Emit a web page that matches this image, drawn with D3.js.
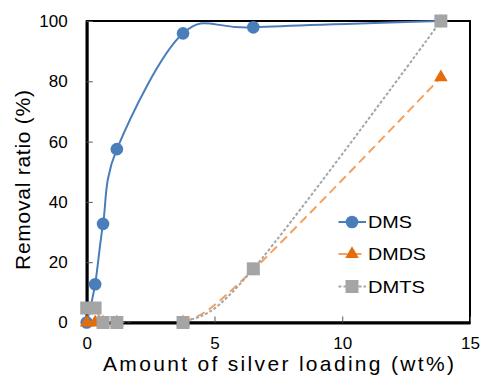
<!DOCTYPE html>
<html>
<head>
<meta charset="utf-8">
<script src="https://cdn.jsdelivr.net/npm/d3@7"></script>
<style>
  body { margin: 0; background: #fff; }
  text { font-family: "Liberation Sans", Arial, sans-serif; fill: #000; }
</style>
</head>
<body>
<div id="chart"></div>
<script>
// data
let arrLoading = [0, 0.33, 0.64, 1.18, 3.77, 6.52, 13.86];
let arrDMS  = [0, 12.7, 32.7, 57.5, 95.9, 97.9, 100];
let arrDMDS = [0, 0, 0, 0, 0, 17.5, 81.3];
let arrDMTS = [4.8, 4.8, 0, 0, 0, 17.8, 100];
let arrSeriesNames = ["DMS", "DMDS", "DMTS"];
let arrXTicks = [0, 5, 10, 15];
let arrYTicks = [0, 20, 40, 60, 80, 100];

let intTotalWid = 484;
let intTotalHgt = 377;
let objMargin = { top: 21, right: 14, bottom: 54.5, left: 86.7 };
let intActiveWid = intTotalWid - objMargin.left - objMargin.right;
let intActiveHgt = intTotalHgt - objMargin.top - objMargin.bottom;

let svg = d3.select("#chart")
  .append("svg")
  .attr("width", intTotalWid)
  .attr("height", intTotalHgt);

let g = svg.append("g")
  .attr("transform", `translate(${objMargin.left}, ${objMargin.top})`);

let fnXScale = d3.scaleLinear().domain([0, 15]).range([0, intActiveWid]);
let fnYScale = d3.scaleLinear().domain([0, 100]).range([intActiveHgt, 0]);

// plot border (top + right)
g.append("rect")
  .attr("width", intActiveWid)
  .attr("height", intActiveHgt)
  .attr("fill", "none")
  .attr("stroke", "#000")
  .attr("stroke-width", 2);

// axes with inside ticks
let gX = g.append("g")
  .attr("transform", `translate(0, ${intActiveHgt})`)
  .call(d3.axisBottom(fnXScale).tickValues(arrXTicks).tickSizeInner(-6).tickSizeOuter(0).tickPadding(14));
let gY = g.append("g")
  .call(d3.axisLeft(fnYScale).tickValues(arrYTicks).tickSizeInner(-6).tickSizeOuter(0).tickPadding(19));

[gX, gY].forEach(ax => {
  ax.select(".domain").attr("stroke", "#000").attr("stroke-width", 3);
  ax.selectAll(".tick line").attr("stroke", "#555").attr("stroke-width", 1);
  ax.selectAll(".tick text").attr("font-size", 17).attr("fill", "#111")
    .style("font-family", "'Liberation Sans', Arial, sans-serif");
});

// series
let arrSeries = [
  { name: arrSeriesNames[0], vals: arrDMS,  color: "#4a7ebb", mark: "#4a7ebb", dash: null,  shape: d3.symbolCircle },
  { name: arrSeriesNames[1], vals: arrDMDS, color: "#f4a160", mark: "#e46c0a", dash: "9,5", shape: d3.symbolTriangle },
  { name: arrSeriesNames[2], vals: arrDMTS, color: "#a5a5a5", mark: "#a5a5a5", dash: "3,2", shape: d3.symbolSquare }
];

svg.append("defs").append("clipPath").attr("id", "plotClip")
  .append("rect").attr("y", -2).attr("width", intActiveWid).attr("height", intActiveHgt + 2);

let fnLine = d3.line()
  .x(d => fnXScale(d[0]))
  .y(d => fnYScale(d[1]))
  .curve(d3.curveCardinal.tension(0));

let objSizes = { DMS: 125, DMDS: 80, DMTS: 169 };

arrSeries.forEach(s => {
  let arrPts = arrLoading.map((x, i) => [x, s.vals[i]]);
  g.append("path")
    .datum(arrPts)
    .attr("clip-path", "url(#plotClip)")
    .attr("d", fnLine)
    .attr("fill", "none")
    .attr("stroke", s.color)
    .attr("stroke-width", 2)
    .attr("stroke-dasharray", s.dash);
  g.selectAll(".pt-" + s.name)
    .data(arrPts)
    .enter()
    .append("path")
    .attr("class", "pt-" + s.name)
    .attr("transform", d => `translate(${fnXScale(d[0])}, ${fnYScale(d[1])})`)
    .attr("d", d3.symbol().type(s.shape).size(objSizes[s.name]))
    .attr("fill", s.mark);
});

// legend
let arrLegY = [222, 254, 286.5];
let arrLegW = [44, 58, 57];
arrSeries.forEach((s, i) => {
  let lg = svg.append("g").attr("transform", `translate(0, ${arrLegY[i]})`);
  lg.append("line")
    .attr("x1", 338.5).attr("x2", 366)
    .attr("stroke", s.color).attr("stroke-width", 2)
    .attr("stroke-dasharray", s.dash);
  lg.append("path")
    .attr("transform", "translate(352, 0)")
    .attr("d", d3.symbol().type(s.shape).size(objSizes[s.name]))
    .attr("fill", s.mark);
  lg.append("text")
    .attr("x", 368)
    .attr("dy", "0.36em")
    .attr("font-size", 17)
    .attr("textLength", arrLegW[i])
    .attr("lengthAdjust", "spacingAndGlyphs")
    .text(s.name);
});

// axis titles
svg.append("text")
  .attr("x", 103)
  .attr("y", 371)
  .attr("font-size", 21)
  .attr("textLength", 351)
  .attr("lengthAdjust", "spacing")
  .text("Amount of silver loading (wt%)");

svg.append("text")
  .attr("transform", "translate(30, 180) rotate(-90)")
  .attr("text-anchor", "middle")
  .attr("font-size", 21)
  .attr("textLength", 180)
  .attr("lengthAdjust", "spacing")
  .text("Removal ratio (%)");
</script>
</body>
</html>
